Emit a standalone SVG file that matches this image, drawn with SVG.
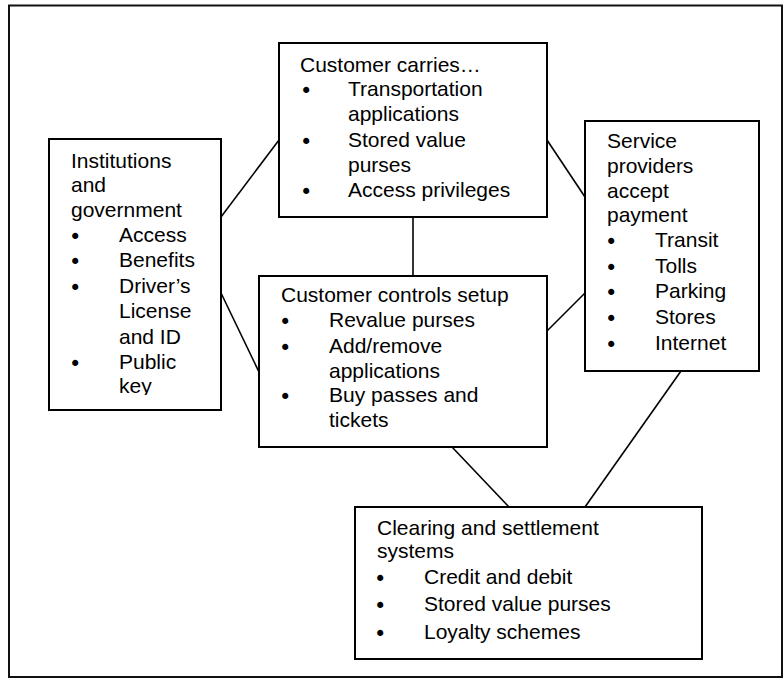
<svg xmlns="http://www.w3.org/2000/svg" width="783" height="679" viewBox="0 0 783 679">
<style>
.box{fill:#fff;stroke:#000;stroke-width:2}
.frame{fill:none;stroke:#111;stroke-width:2}
.conn line{stroke:#000;stroke-width:1.6}
text{font-family:"Liberation Sans",Arial,sans-serif;font-size:21px;fill:#000}
text.b{font-family:"DejaVu Sans",sans-serif;font-size:21px}
</style>
<defs>
<clipPath id="instClip"><rect x="49" y="139" width="172" height="256"/></clipPath>
</defs>
<rect class="frame" x="9" y="5.5" width="773" height="671.5"/>
<g id="connectors" class="conn">
<line x1="221" y1="217" x2="279" y2="140"/>
<line x1="547" y1="140" x2="585" y2="197"/>
<line x1="413" y1="217" x2="413" y2="276"/>
<line x1="221" y1="293" x2="259" y2="372"/>
<line x1="547" y1="331" x2="585" y2="293"/>
<line x1="681" y1="371" x2="585" y2="507"/>
<line x1="452" y1="447" x2="509" y2="507"/>
</g>
<g id="carries">
<rect class="box" x="279" y="43" width="268" height="174"/>
<text x="300" y="72">Customer carries…</text>
<text class="b" x="300" y="98">•</text><text x="348" y="96">Transportation</text>
<text x="348" y="121">applications</text>
<text class="b" x="300" y="149">•</text><text x="348" y="147">Stored value</text>
<text x="348" y="172">purses</text>
<text class="b" x="300" y="199">•</text><text x="348" y="197">Access privileges</text>
</g>
<g id="institutions">
<rect class="box" x="49" y="139" width="172" height="271"/>
<g clip-path="url(#instClip)">
<text x="71" y="168">Institutions</text>
<text x="71" y="192">and</text>
<text x="71" y="217">government</text>
<text class="b" x="69" y="244">•</text><text x="119" y="242">Access</text>
<text class="b" x="69" y="269">•</text><text x="119" y="267">Benefits</text>
<text class="b" x="69" y="295">•</text><text x="119" y="293">Driver’s</text>
<text x="119" y="318">License</text>
<text x="119" y="344">and ID</text>
<text class="b" x="69" y="371">•</text><text x="119" y="369">Public</text>
<text x="119" y="393">key</text>
</g>
</g>
<g id="service">
<rect class="box" x="585" y="121" width="174" height="250"/>
<text x="607" y="148">Service</text>
<text x="607" y="173">providers</text>
<text x="607" y="198">accept</text>
<text x="607" y="222">payment</text>
<text class="b" x="605" y="249">•</text><text x="655" y="247">Transit</text>
<text class="b" x="605" y="275">•</text><text x="655" y="273">Tolls</text>
<text class="b" x="605" y="300">•</text><text x="655" y="298">Parking</text>
<text class="b" x="605" y="326">•</text><text x="655" y="324">Stores</text>
<text class="b" x="605" y="352">•</text><text x="655" y="350">Internet</text>
</g>
<g id="controls">
<rect class="box" x="259" y="276" width="288" height="171"/>
<text x="281" y="302">Customer controls setup</text>
<text class="b" x="279" y="329">•</text><text x="329" y="327">Revalue purses</text>
<text class="b" x="279" y="355">•</text><text x="329" y="353">Add/remove</text>
<text x="329" y="378">applications</text>
<text class="b" x="279" y="404">•</text><text x="329" y="402">Buy passes and</text>
<text x="329" y="427">tickets</text>
</g>
<g id="clearing">
<rect class="box" x="355" y="507" width="347" height="152"/>
<text x="377" y="535">Clearing and settlement</text>
<text x="377" y="558">systems</text>
<text class="b" x="374" y="586">•</text><text x="424" y="584">Credit and debit</text>
<text class="b" x="374" y="613">•</text><text x="424" y="611">Stored value purses</text>
<text class="b" x="374" y="641">•</text><text x="424" y="639">Loyalty schemes</text>
</g>
</svg>
